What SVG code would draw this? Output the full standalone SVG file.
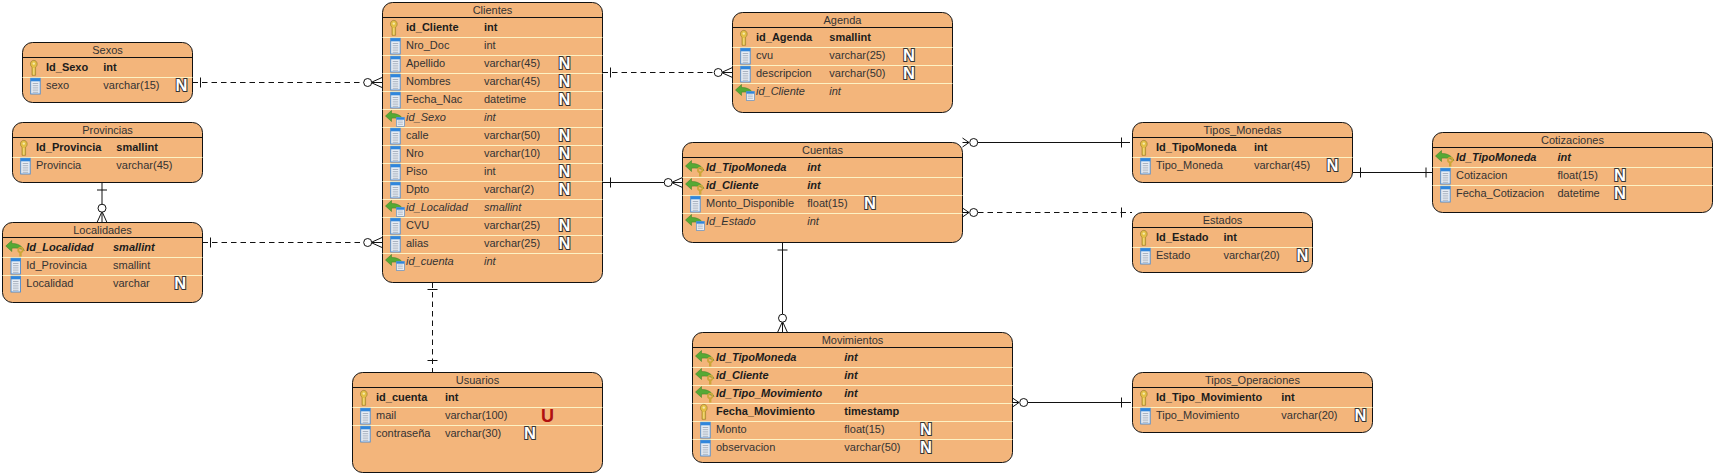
<svg xmlns="http://www.w3.org/2000/svg" width="1716" height="476" viewBox="0 0 1716 476">
<style>
text{font-family:"Liberation Sans",Arial,sans-serif;font-size:11px;fill:#333}
.ti{text-anchor:middle;fill:#333}
.k{font-weight:700;fill:#1c1c1c}
.f{font-style:italic}
.fk{font-weight:700;font-style:italic;fill:#1c1c1c}
.nl{font-size:16.5px;font-weight:700;text-anchor:middle;fill:#fff;stroke:#333;stroke-width:2px;paint-order:stroke}
.ul{font-size:18px;font-weight:700;text-anchor:middle;fill:#b01010}
.box{fill:#f3b57b;stroke:#111;stroke-width:1}
.hd{stroke:#111;stroke-width:1}
.sp{stroke:#fdf2c4;stroke-width:1}
.cn{fill:none;stroke:#111;stroke-width:1}
.da{stroke-dasharray:5.5 4}
.ci{fill:#fff;stroke:#111;stroke-width:1}
</style>
<defs>
<g id="col"><rect x="-15.3" y="-10.7" width="9.5" height="15.7" fill="#e6ecf3" stroke="#4a8ad0" stroke-width="0.9"/><rect x="-15.3" y="-10.7" width="9.5" height="3" fill="#2f86dc"/><path d="M-13.3-5.5h5.5M-13.3-3.3h5.5M-13.3-1.1h5.5M-13.3 1.1h5.5M-13.3 3.3h5.5" stroke="#9aa5b2" stroke-width="0.8"/></g>
<g id="key"><path d="M-14-3.8C-16.5-5.5-16-10.6-12.2-10.6C-8.4-10.6-7.9-5.5-10.4-3.8V4.3H-14Z" fill="#e3bf45" stroke="#8f7426" stroke-width="0.6"/><circle cx="-12.2" cy="-7.4" r="1.2" fill="#f6e9a8"/><path d="M-12.2-3V3.8" stroke="#f6e39a" stroke-width="0.8"/></g>
<path id="arr" d="M-20.5-5L-14.5-10.5V-7.5C-9-7.5-5-6-2-0.5C-6-3-10-3-14.5-2.8V0.5Z" fill="#55a935" stroke="#3c7a25" stroke-width="0.5"/>
<g id="fkk"><use href="#arr"/><circle cx="-5.8" cy="-1" r="2.3" fill="none" stroke="#cda63a" stroke-width="1.7"/><path d="M-5.8 1.2V5.5" stroke="#cda63a" stroke-width="2.4"/></g>
<g id="fkc"><use href="#arr"/><rect x="-9.5" y="-3.5" width="7.8" height="8.8" fill="#e6ecf3" stroke="#4a8ad0" stroke-width="0.6"/><rect x="-9.5" y="-3.5" width="7.8" height="2.2" fill="#2f86dc"/><path d="M-8.2 0h5M-8.2 1.7h5M-8.2 3.4h5" stroke="#9aa5b2" stroke-width="0.6"/></g>
<g id="crow"><path class="cn" d="M-11 0L0-5M-11 0H0M-11 0L0 5"/><circle class="ci" cx="-14.3" cy="0" r="4"/></g>
<g id="crow2"><path class="cn" d="M-6.5 0L0-4.5M-6.5 0H0M-6.5 0L0 4.5"/><circle class="ci" cx="-11.2" cy="0" r="4"/></g>
</defs>

<g id="connectors">
<path class="cn da" d="M192.5 82.5H364"/><path class="cn" d="M200.5 77.5V87.5"/><use href="#crow" transform="translate(382,82.5)"/>
<path class="cn da" d="M202.5 242.5H364"/><path class="cn" d="M210.5 237.5V247.5"/><use href="#crow" transform="translate(382,242.5)"/>
<path class="cn" d="M102 182.5V205M97 190H107"/><use href="#crow" transform="translate(102,222.5) rotate(90)"/>
<path class="cn da" d="M602.5 72.5H715"/><path class="cn" d="M610.5 67.5V77.5"/><use href="#crow" transform="translate(732.5,72.5)"/>
<path class="cn" d="M602.5 182.5H665M610.5 177.5V187.5"/><use href="#crow" transform="translate(682.5,182.5)"/>
<path class="cn da" d="M432.5 282.5V372"/><path class="cn" d="M427.5 289.5H437.5M427.5 360.5H437.5"/>
<path class="cn" d="M975 142.5H1130M1121.5 137.5V147.5"/><use href="#crow2" transform="translate(962.5,142.5) rotate(180)"/>
<path class="cn da" d="M978 212.5H1132"/><path class="cn" d="M1121.5 207.5V217.5"/><use href="#crow2" transform="translate(962.5,212.5) rotate(180)"/>
<path class="cn" d="M782.5 242.5V315M777.5 250H787.5"/><use href="#crow" transform="translate(782.5,332.5) rotate(90)"/>
<path class="cn" d="M1025 402.5H1131M1121.5 397.5V407.5"/><use href="#crow2" transform="translate(1012.5,402.5) rotate(180)"/>
<path class="cn" d="M1352.5 172.5H1432.5M1360.5 167.5V177.5M1426 167.5V177.5"/>
</g>

<g id="sexos" transform="translate(22.5,57.5)">
<rect class="box" y="-15" width="170" height="60" rx="10"/><path class="hd" d="M0 0H170"/><path class="sp" d="M0 20H170"/>
<text class="ti" x="85" y="-3.5">Sexos</text>
<use href="#key" x="23.5" y="13.5"/><text class="k" x="23.5" y="13.5">Id_Sexo</text><text class="k" x="80.8" y="13.5">int</text>
<use href="#col" x="23.5" y="31.5"/><text x="23.5" y="31.5">sexo</text><text x="80.8" y="31.5">varchar(15)</text><text class="nl" x="159" y="33.8">N</text>
</g>

<g id="provincias" transform="translate(12.5,137.5)">
<rect class="box" y="-15" width="190" height="60" rx="10"/><path class="hd" d="M0 0H190"/><path class="sp" d="M0 20H190"/>
<text class="ti" x="95" y="-3.5">Provincias</text>
<use href="#key" x="23.5" y="13.5"/><text class="k" x="23.5" y="13.5">Id_Provincia</text><text class="k" x="103.8" y="13.5">smallint</text>
<use href="#col" x="23.5" y="31.5"/><text x="23.5" y="31.5">Provincia</text><text x="103.8" y="31.5">varchar(45)</text>
</g>

<g id="localidades" transform="translate(2.5,237.5)">
<rect class="box" y="-15" width="200" height="80" rx="10"/><path class="hd" d="M0 0H200"/><path class="sp" d="M0 20H200M0 38H200"/>
<text class="ti" x="100" y="-3.5">Localidades</text>
<use href="#fkk" x="23.8" y="13.5"/><text class="fk" x="23.8" y="13.5">Id_Localidad</text><text class="fk" x="110.5" y="13.5">smallint</text>
<use href="#col" x="23.8" y="31.5"/><text x="23.8" y="31.5">Id_Provincia</text><text x="110.5" y="31.5">smallint</text>
<use href="#col" x="23.8" y="49.5"/><text x="23.8" y="49.5">Localidad</text><text x="110.5" y="49.5">varchar</text><text class="nl" x="177.8" y="51.8">N</text>
</g>

<g id="clientes" transform="translate(382.5,17.5)">
<rect class="box" y="-15" width="220" height="280" rx="10"/><path class="hd" d="M0 0H220"/>
<path class="sp" d="M0 20H220M0 38H220M0 56H220M0 74H220M0 92H220M0 110H220M0 128H220M0 146H220M0 164H220M0 182H220M0 200H220M0 218H220M0 236H220"/>
<text class="ti" x="110" y="-3.5">Clientes</text>
<use href="#key" x="23.5" y="13.5"/><text class="k" x="23.5" y="13.5">id_Cliente</text><text class="k" x="101.5" y="13.5">int</text>
<use href="#col" x="23.5" y="31.5"/><text x="23.5" y="31.5">Nro_Doc</text><text x="101.5" y="31.5">int</text>
<use href="#col" x="23.5" y="49.5"/><text x="23.5" y="49.5">Apellido</text><text x="101.5" y="49.5">varchar(45)</text><text class="nl" x="182" y="51.8">N</text>
<use href="#col" x="23.5" y="67.5"/><text x="23.5" y="67.5">Nombres</text><text x="101.5" y="67.5">varchar(45)</text><text class="nl" x="182" y="69.8">N</text>
<use href="#col" x="23.5" y="85.5"/><text x="23.5" y="85.5">Fecha_Nac</text><text x="101.5" y="85.5">datetime</text><text class="nl" x="182" y="87.8">N</text>
<use href="#fkc" x="23.5" y="103.5"/><text class="f" x="23.5" y="103.5">id_Sexo</text><text class="f" x="101.5" y="103.5">int</text>
<use href="#col" x="23.5" y="121.5"/><text x="23.5" y="121.5">calle</text><text x="101.5" y="121.5">varchar(50)</text><text class="nl" x="182" y="123.8">N</text>
<use href="#col" x="23.5" y="139.5"/><text x="23.5" y="139.5">Nro</text><text x="101.5" y="139.5">varchar(10)</text><text class="nl" x="182" y="141.8">N</text>
<use href="#col" x="23.5" y="157.5"/><text x="23.5" y="157.5">Piso</text><text x="101.5" y="157.5">int</text><text class="nl" x="182" y="159.8">N</text>
<use href="#col" x="23.5" y="175.5"/><text x="23.5" y="175.5">Dpto</text><text x="101.5" y="175.5">varchar(2)</text><text class="nl" x="182" y="177.8">N</text>
<use href="#fkc" x="23.5" y="193.5"/><text class="f" x="23.5" y="193.5">id_Localidad</text><text class="f" x="101.5" y="193.5">smallint</text>
<use href="#col" x="23.5" y="211.5"/><text x="23.5" y="211.5">CVU</text><text x="101.5" y="211.5">varchar(25)</text><text class="nl" x="182" y="213.8">N</text>
<use href="#col" x="23.5" y="229.5"/><text x="23.5" y="229.5">alias</text><text x="101.5" y="229.5">varchar(25)</text><text class="nl" x="182" y="231.8">N</text>
<use href="#fkc" x="23.5" y="247.5"/><text class="f" x="23.5" y="247.5">id_cuenta</text><text class="f" x="101.5" y="247.5">int</text>
</g>

<g id="agenda" transform="translate(732.5,27.5)">
<rect class="box" y="-15" width="220" height="100" rx="10"/><path class="hd" d="M0 0H220"/><path class="sp" d="M0 20H220M0 38H220M0 56H220"/>
<text class="ti" x="110" y="-3.5">Agenda</text>
<use href="#key" x="23.5" y="13.5"/><text class="k" x="23.5" y="13.5">id_Agenda</text><text class="k" x="96.8" y="13.5">smallint</text>
<use href="#col" x="23.5" y="31.5"/><text x="23.5" y="31.5">cvu</text><text x="96.8" y="31.5">varchar(25)</text><text class="nl" x="176.5" y="33.8">N</text>
<use href="#col" x="23.5" y="49.5"/><text x="23.5" y="49.5">descripcion</text><text x="96.8" y="49.5">varchar(50)</text><text class="nl" x="176.5" y="51.8">N</text>
<use href="#fkc" x="23.5" y="67.5"/><text class="f" x="23.5" y="67.5">id_Cliente</text><text class="f" x="96.8" y="67.5">int</text>
</g>

<g id="cuentas" transform="translate(682.5,157.5)">
<rect class="box" y="-15" width="280" height="100" rx="10"/><path class="hd" d="M0 0H280"/><path class="sp" d="M0 20H280M0 38H280M0 56H280"/>
<text class="ti" x="140" y="-3.5">Cuentas</text>
<use href="#fkk" x="23.5" y="13.5"/><text class="fk" x="23.5" y="13.5">Id_TipoMoneda</text><text class="fk" x="124.8" y="13.5">int</text>
<use href="#fkk" x="23.5" y="31.5"/><text class="fk" x="23.5" y="31.5">id_Cliente</text><text class="fk" x="124.8" y="31.5">int</text>
<use href="#col" x="23.5" y="49.5"/><text x="23.5" y="49.5">Monto_Disponible</text><text x="124.8" y="49.5">float(15)</text><text class="nl" x="187.5" y="51.8">N</text>
<use href="#fkc" x="23.5" y="67.5"/><text class="f" x="23.5" y="67.5">Id_Estado</text><text class="f" x="124.8" y="67.5">int</text>
</g>

<g id="usuarios" transform="translate(352.5,387.5)">
<rect class="box" y="-15" width="250" height="100" rx="10"/><path class="hd" d="M0 0H250"/><path class="sp" d="M0 20H250M0 38H250"/>
<text class="ti" x="125" y="-3.5">Usuarios</text>
<use href="#key" x="23.5" y="13.5"/><text class="k" x="23.5" y="13.5">id_cuenta</text><text class="k" x="92.5" y="13.5">int</text>
<use href="#col" x="23.5" y="31.5"/><text x="23.5" y="31.5">mail</text><text x="92.5" y="31.5">varchar(100)</text><text class="ul" x="195" y="34.5">U</text>
<use href="#col" x="23.5" y="49.5"/><text x="23.5" y="49.5">contraseña</text><text x="92.5" y="49.5">varchar(30)</text><text class="nl" x="177.5" y="51.8">N</text>
</g>

<g id="movimientos" transform="translate(692.5,347.5)">
<rect class="box" y="-15" width="320" height="130" rx="10"/><path class="hd" d="M0 0H320"/><path class="sp" d="M0 20H320M0 38H320M0 56H320M0 74H320M0 92H320"/>
<text class="ti" x="160" y="-3.5">Movimientos</text>
<use href="#fkk" x="23.5" y="13.5"/><text class="fk" x="23.5" y="13.5">Id_TipoMoneda</text><text class="fk" x="151.8" y="13.5">int</text>
<use href="#fkk" x="23.5" y="31.5"/><text class="fk" x="23.5" y="31.5">id_Cliente</text><text class="fk" x="151.8" y="31.5">int</text>
<use href="#fkk" x="23.5" y="49.5"/><text class="fk" x="23.5" y="49.5">Id_Tipo_Movimiento</text><text class="fk" x="151.8" y="49.5">int</text>
<use href="#key" x="23.5" y="67.5"/><text class="k" x="23.5" y="67.5">Fecha_Movimiento</text><text class="k" x="151.8" y="67.5">timestamp</text>
<use href="#col" x="23.5" y="85.5"/><text x="23.5" y="85.5">Monto</text><text x="151.8" y="85.5">float(15)</text><text class="nl" x="233.5" y="87.8">N</text>
<use href="#col" x="23.5" y="103.5"/><text x="23.5" y="103.5">observacion</text><text x="151.8" y="103.5">varchar(50)</text><text class="nl" x="233.5" y="105.8">N</text>
</g>

<g id="tipos_monedas" transform="translate(1132.5,137.5)">
<rect class="box" y="-15" width="220" height="60" rx="10"/><path class="hd" d="M0 0H220"/><path class="sp" d="M0 20H220"/>
<text class="ti" x="110" y="-3.5">Tipos_Monedas</text>
<use href="#key" x="23.5" y="13.5"/><text class="k" x="23.5" y="13.5">Id_TipoMoneda</text><text class="k" x="121.5" y="13.5">int</text>
<use href="#col" x="23.5" y="31.5"/><text x="23.5" y="31.5">Tipo_Moneda</text><text x="121.5" y="31.5">varchar(45)</text><text class="nl" x="200" y="33.8">N</text>
</g>

<g id="estados" transform="translate(1132.5,227.5)">
<rect class="box" y="-15" width="180" height="60" rx="10"/><path class="hd" d="M0 0H180"/><path class="sp" d="M0 20H180"/>
<text class="ti" x="90" y="-3.5">Estados</text>
<use href="#key" x="23.5" y="13.5"/><text class="k" x="23.5" y="13.5">Id_Estado</text><text class="k" x="91" y="13.5">int</text>
<use href="#col" x="23.5" y="31.5"/><text x="23.5" y="31.5">Estado</text><text x="91" y="31.5">varchar(20)</text><text class="nl" x="170" y="33.8">N</text>
</g>

<g id="cotizaciones" transform="translate(1432.5,147.5)">
<rect class="box" y="-15" width="280" height="80" rx="10"/><path class="hd" d="M0 0H280"/><path class="sp" d="M0 20H280M0 38H280"/>
<text class="ti" x="140" y="-3.5">Cotizaciones</text>
<use href="#fkk" x="23.5" y="13.5"/><text class="fk" x="23.5" y="13.5">Id_TipoMoneda</text><text class="fk" x="125" y="13.5">int</text>
<use href="#col" x="23.5" y="31.5"/><text x="23.5" y="31.5">Cotizacion</text><text x="125" y="31.5">float(15)</text><text class="nl" x="187.5" y="33.8">N</text>
<use href="#col" x="23.5" y="49.5"/><text x="23.5" y="49.5">Fecha_Cotizacion</text><text x="125" y="49.5">datetime</text><text class="nl" x="187.5" y="51.8">N</text>
</g>

<g id="tipos_operaciones" transform="translate(1132.5,387.5)">
<rect class="box" y="-15" width="240" height="60" rx="10"/><path class="hd" d="M0 0H240"/><path class="sp" d="M0 20H240"/>
<text class="ti" x="120" y="-3.5">Tipos_Operaciones</text>
<use href="#key" x="23.5" y="13.5"/><text class="k" x="23.5" y="13.5">Id_Tipo_Movimiento</text><text class="k" x="148.8" y="13.5">int</text>
<use href="#col" x="23.5" y="31.5"/><text x="23.5" y="31.5">Tipo_Movimiento</text><text x="148.8" y="31.5">varchar(20)</text><text class="nl" x="228" y="33.8">N</text>
</g>
</svg>
